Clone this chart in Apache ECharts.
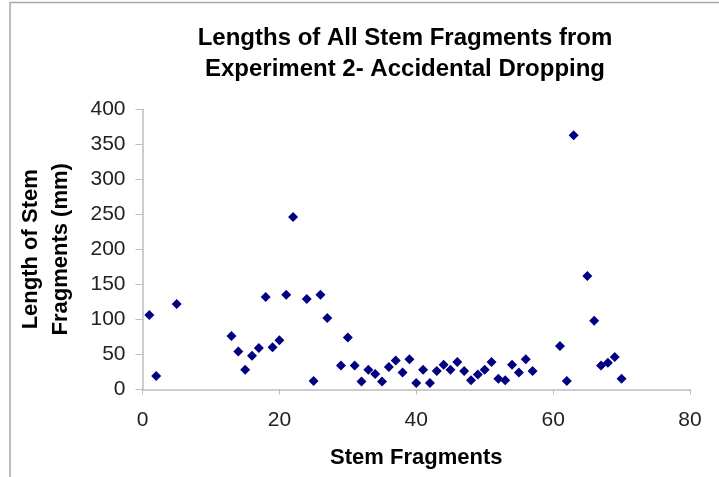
<!DOCTYPE html>
<html>
<head>
<meta charset="utf-8">
<script src="https://cdn.jsdelivr.net/npm/echarts@6/dist/echarts.min.js"></script>
<style>
html,body{margin:0;padding:0;background:#fff;}
#chart{width:719px;height:477px;}
</style>
</head>
<body>
<div id="chart"></div>
<script>
const fragmentIds = [1,2,5,13,14,15,16,17,18,19,20,21,22,24,25,26,27,29,30,31,32,33,34,35,36,37,38,39,40,41,42,43,44,45,46,47,48,49,50,51,52,53,54,55,56,57,61,62,63,65,66,67,68,69,70];
const fragmentLengths = [106,19,122,76,54,28,48,59,132,60,70,135,246,129,12,135,102,34,74,34,11,28,22,11,32,41,24,43,9,28,9,26,35,28,39,26,13,21,28,39,15,13,35,24,43,26,62,12,363,162,98,34,38,46,15];
const titleLines = ['Lengths of All Stem Fragments from', 'Experiment 2- Accidental Dropping'];
const xAxisTitle = 'Stem Fragments';
const yAxisTitle = 'Length of Stem\nFragments (mm)';

const points = fragmentIds.map((x, i) => [x, fragmentLengths[i]]);
const chart = echarts.init(document.getElementById('chart'));
const font = 'Liberation Sans, Arial, sans-serif';
chart.setOption({
  animation: false,
  backgroundColor: '#fff',
  title: {
    text: titleLines.join('\n'),
    left: 400, top: 18, textAlign: 'center',
    textStyle: {fontFamily: font, fontSize: 24, fontWeight: 'bold', color: '#000', lineHeight: 31}
  },
  graphic: [{
    type: 'rect', shape: {x: 10, y: 2.5, width: 720, height: 480},
    style: {fill: 'none', stroke: '#a8a8a8', lineWidth: 1.5}, silent: true
  }],
  grid: {left: 142.5, right: 29, top: 109.3, bottom: 87.7, containLabel: false},
  xAxis: {
    type: 'value', min: 0, max: 80, interval: 20,
    name: xAxisTitle, nameLocation: 'middle', nameGap: 58,
    nameTextStyle: {fontFamily: font, fontSize: 22, fontWeight: 'bold', color: '#000'},
    axisLine: {show: true, lineStyle: {color: '#bdbdbd', width: 1.5}},
    axisTick: {show: true, length: 5, lineStyle: {color: '#bdbdbd'}},
    axisLabel: {fontFamily: font, fontSize: 21, color: '#222', margin: 20},
    splitLine: {show: false}
  },
  yAxis: {
    type: 'value', min: 0, max: 400, interval: 50,
    name: yAxisTitle, nameLocation: 'middle', nameGap: 67, nameRotate: 90,
    nameTextStyle: {fontFamily: font, fontSize: 22, fontWeight: 'bold', color: '#000', lineHeight: 30},
    axisLine: {show: true, lineStyle: {color: '#bdbdbd', width: 1.5}},
    axisTick: {show: true, length: 7, lineStyle: {color: '#bdbdbd'}},
    axisLabel: {fontFamily: font, fontSize: 21, color: '#222', margin: 17},
    splitLine: {show: false}
  },
  series: [{
    type: 'scatter', data: points, symbol: 'diamond', symbolSize: 10,
    itemStyle: {color: '#000080', opacity: 1}
  }]
});
</script>
</body>
</html>
